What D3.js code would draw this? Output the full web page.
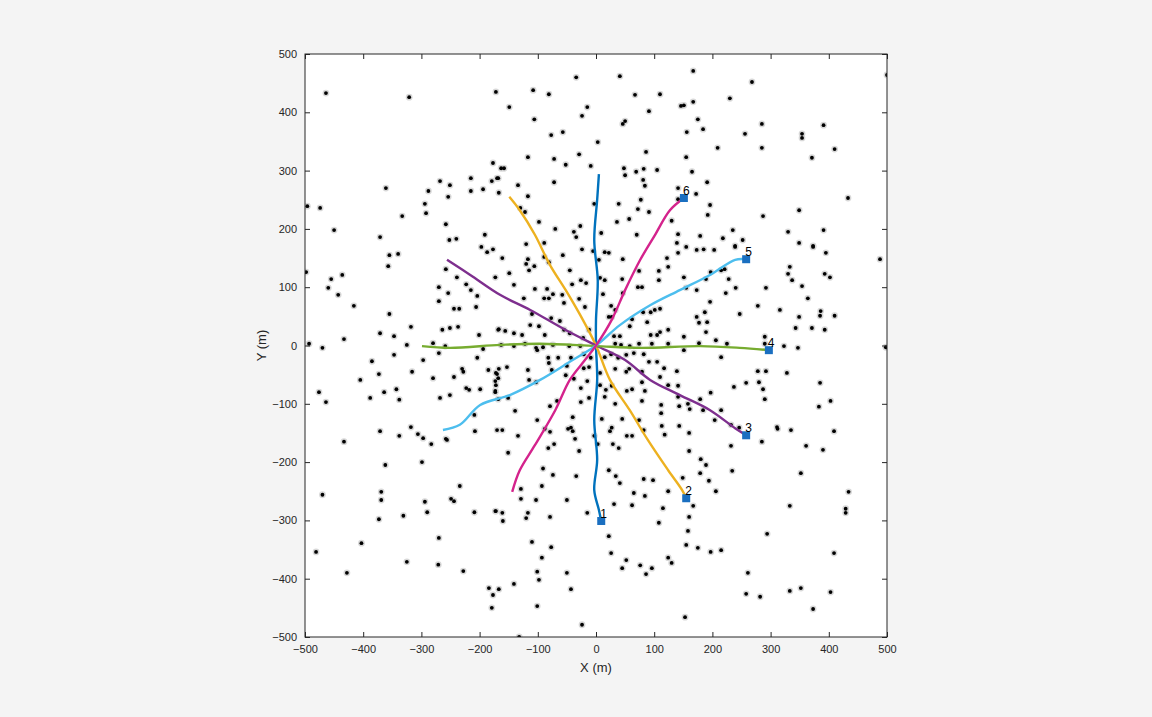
<!DOCTYPE html>
<html>
<head>
<meta charset="utf-8">
<script src="https://cdn.jsdelivr.net/npm/d3@7"></script>
<style>
body { margin: 0; background: #f4f4f4; }
text { font-family: "Liberation Sans", Arial, sans-serif; }
</style>
</head>
<body>
<div id="chart"></div>
<script>
// scatter points, [x, y] in metres
var dotsX = [-464,-321,-172,-177,-496,-474,-450,-361,-333,-371,-294,-292,-288,-268,-251,-254,-258,-252,-240,-215,-215,-194,-179,-170,-167,-191,
  -149,-108,-81,-34,41,167,-106,-15,-24,67,110,91,146,151,167,50,46,-77,-57,156,3,86,-117,-72,-29,155,-52,-9,-163,-158,-168,48,82,105,69,50,165,-72,81,84,-134,-117,141,141,77,39,-3,72,91,-122,-130,-98,-70,36,57,130,-27,-38,-34,9,70,141,139,-89,-120,155,-24,
  268,230,175,184,256,285,354,354,391,209,285,410,371,500,191,172,196,192,287,349,433,179,218,235,252,239,330,391,349,373,185,
  -498,-455,-436,-460,-443,-416,-355,-340,-357,-355,-493,-470,-433,-371,-347,-318,-325,-347,-385,-405,-373,-364,-388,-343,-338,-476,-464,-316,-297,-280,-371,-433,-338,-318,-306,-297,-283,
  -270,-254,-270,-244,-235,-239,-258,-223,-215,-204,-206,-197,-187,-177,-173,-264,-251,-237,-201,-168,-280,-259,-270,-204,-194,-230,-228,-185,-170,-173,-244,-223,-218,-199,-173,-268,-251,-258,-209,-208,-170,
  173,203,239,197,215,221,228,189,173,223,240,292,395,373,488,333,330,337,393,402,354,364,196,278,247,316,187,173,177,191,349,386,385,410,343,371,393,189,206,177,225,290,290,323,347,498,215,278,292,328,258,280,237,287,385,197,290,403,179,383,184,215,204,232,246,311,312,335,409,285,
  -161,-117,-120,-106,-115,-149,-89,-81,-57,-45,-5,5,15,22,46,45,74,108,122,124,141,151,155,108,72,79,-141,-105,-84,-81,-74,-58,-41,-26,-17,7,15,12,-124,-89,-55,-29,-19,26,33,46,22,27,81,94,101,110,88,110,124,62,58,-110,-77,-62,-113,-98,-88,-167,-156,-141,-127,-55,-45,-12,-22,
  -163,-141,-122,-103,-91,-74,-46,-27,31,41,33,43,58,74,94,105,96,124,151,151,-101,-82,-81,-65,-43,-21,-9,15,26,38,52,65,82,91,105,139,117,-167,-172,-168,-153,-117,-76,-50,-21,-12,7,33,57,52,79,110,
  -172,-173,-115,-103,-52,-38,-15,-26,7,17,27,53,62,79,84,124,141,141,158,161,143,112,79,33,15,-12,-26,-67,-79,-139,-151,-168,-101,-40,10,45,112,113,143,-161,-134,-88,-79,-48,-43,-40,-36,-3,24,27,53,62,74,82,118,160,
  -256,-362,-299,-470,-369,-369,-294,-290,-249,-244,-234,-373,-331,-209,-173,-270,-403,-481,-325,-271,-228,-428,-184,-167,-177,-179,
  -151,-82,-72,-29,29,39,3,-91,-74,-34,22,34,41,-93,-129,-129,-103,-50,82,98,124,65,84,31,62,115,149,160,167,-172,-161,-160,-117,-120,-79,-15,160,108,158,155,22,26,-110,-77,-93,52,45,76,96,86,124,130,-101,-98,-50,-43,-141,-101,-24,153,-132,
  232,361,390,180,189,179,234,194,206,352,434,333,429,429,294,175,197,215,409,261,258,282,333,352,403,373];
var dotsY = [433,426,435,313,239,236,198,270,222,186,243,227,265,282,275,255,208,181,183,287,265,268,282,287,262,190,
  409,438,431,460,462,471,388,409,394,430,431,402,411,412,418,385,380,361,366,366,349,332,323,320,328,323,310,308,304,304,287,304,303,301,298,292,298,280,284,274,275,256,270,251,250,243,243,234,229,229,236,212,200,212,217,214,205,195,186,193,190,191,176,176,174,169,165,
  452,424,388,371,363,380,363,356,378,339,339,337,322,464,280,260,241,224,222,232,253,188,184,198,181,171,195,198,176,171,165,
  126,114,121,99,87,68,155,157,136,54,3,-4,11,21,16,32,1,-16,-27,-59,-49,-80,-90,-75,-93,-80,-97,-45,-25,-56,-147,-165,-155,-140,-152,-159,-169,
  100,90,76,63,63,117,131,105,95,85,66,169,160,165,117,27,30,32,18,27,4,-1,-13,-21,-6,-40,-45,-42,-49,-61,-54,-73,-76,-75,-78,-90,-85,-160,-119,-147,-145,
  164,164,169,126,129,131,114,114,95,90,99,99,159,169,148,135,123,112,123,117,102,81,75,68,54,61,57,49,39,40,49,59,51,51,30,30,27,23,9,4,3,15,3,-1,-4,-3,-20,-44,-44,-47,-64,-63,-71,-75,-64,-81,-92,-95,-92,-105,-111,-111,-128,-136,-141,-140,-143,-145,-147,-165,
  150,148,140,136,129,124,152,143,155,129,162,147,160,159,148,114,128,128,150,135,159,117,99,112,100,100,104,97,97,81,88,87,105,112,107,116,112,88,81,81,73,80,66,68,61,90,49,49,57,57,61,63,40,23,27,45,33,54,47,42,35,33,18,28,25,21,18,27,21,27,13,
  1,-1,3,-4,-3,1,-1,-1,16,16,3,1,-1,3,18,18,3,3,15,-8,-8,-21,-30,-21,-21,-15,-21,-20,-15,-21,-16,-13,-15,-28,-28,-44,-39,-40,-47,-56,-37,-42,-42,-35,-39,-37,-47,-40,-40,-45,-45,-54,
  -68,-80,-59,-63,-51,-57,-61,-73,-68,-76,-69,-78,-75,-63,-78,-68,-69,-88,-100,-109,-104,-102,-95,-100,-88,-90,-97,-95,-104,-112,-90,-92,-128,-123,-126,-126,-116,-138,-138,-145,-155,-143,-148,-143,-141,-147,-160,-155,-147,-141,-155,-155,-128,-145,-153,-150,
  -162,-205,-200,-256,-251,-265,-268,-286,-263,-267,-241,-298,-292,-286,-284,-330,-339,-354,-371,-376,-387,-390,-416,-418,-428,-450,
  -184,-176,-169,-181,-169,-176,-169,-211,-222,-224,-214,-224,-236,-241,-246,-263,-265,-265,-229,-231,-250,-253,-258,-272,-274,-279,-227,-181,-275,-284,-287,-301,-287,-296,-294,-287,-294,-304,-318,-342,-327,-356,-337,-346,-364,-368,-382,-377,-382,-392,-364,-373,-388,-402,-390,-418,-409,-447,-479,-466,-500,
  -172,-172,-179,-195,-205,-219,-215,-232,-250,-219,-251,-275,-280,-287,-323,-347,-354,-351,-356,-390,-426,-431,-421,-416,-423,-452];

// trajectories, one x array and one y array per sensor
var pathX = [
  [5, 2, -3, 3, 0, 0, 2, -3, 2, -3, 5, 9],
  [-149, -131, -105, -79, -52, -27, 0, 24, 58, 89, 124, 148, 155],
  [-256, -216, -165, -113, -53, 0, 50, 93, 144, 196, 239, 258],
  [-299, -251, -165, -96, 0, 76, 179, 247, 297],
  [-263, -234, -199, -148, -96, -45, 0, 41, 93, 144, 196, 239, 258],
  [-144, -131, -105, -70, -45, -19, 0, 27, 50, 76, 101, 127, 151]
];
var pathY = [
  [294, 250, 181, 112, 44, 0, -59, -128, -196, -248, -282, -301],
  [255, 232, 190, 138, 95, 52, 0, -59, -111, -162, -214, -248, -262],
  [147, 121, 87, 61, 27, 0, -25, -59, -85, -111, -142, -154],
  [-1, -4, 1, 3, -1, -4, -1, -4, -8],
  [-145, -136, -102, -85, -59, -28, 0, 35, 69, 95, 121, 147, 148],
  [-251, -214, -171, -111, -59, -25, 0, 44, 95, 147, 189, 232, 253]
];
var pathColors = ["#0072BD", "#EDB120", "#7E2F8E", "#77AC30", "#4DBEEE", "#D4238C"];
var pathLabels = ["1", "2", "3", "4", "5", "6"];
var ticks = [-500, -400, -300, -200, -100, 0, 100, 200, 300, 400, 500];

var W = 1152, H = 717;
var plotL = 305, plotT = 54, pw = 582, ph = 583;

var svg = d3.select("#chart").append("svg").attr("width", W).attr("height", H);
svg.append("rect").attr("width", W).attr("height", H).attr("fill", "#f4f4f4");

var x = d3.scaleLinear().domain([-500, 500]).range([plotL, plotL + pw]);
var y = d3.scaleLinear().domain([-500, 500]).range([plotT + ph, plotT]);

svg.append("rect").attr("x", plotL).attr("y", plotT).attr("width", pw).attr("height", ph).attr("fill", "#fff");

svg.append("clipPath").attr("id", "clip").append("rect")
  .attr("x", plotL).attr("y", plotT).attr("width", pw).attr("height", ph);
var g = svg.append("g").attr("clip-path", "url(#clip)");

// dots with a soft gray rim
var dots = d3.range(dotsX.length);
g.selectAll("circle.halo").data(dots).enter().append("circle")
  .attr("cx", function(i) { return x(dotsX[i]); })
  .attr("cy", function(i) { return y(dotsY[i]); })
  .attr("r", 3.4).attr("fill", "#d8d8d8");
g.selectAll("circle.dot").data(dots).enter().append("circle")
  .attr("cx", function(i) { return x(dotsX[i]); })
  .attr("cy", function(i) { return y(dotsY[i]); })
  .attr("r", 1.9).attr("fill", "#000");

var line = d3.line().curve(d3.curveCatmullRom)
  .x(function(d) { return x(d[0]); })
  .y(function(d) { return y(d[1]); });

pathX.forEach(function(xs, k) {
  var pts = xs.map(function(v, i) { return [v, pathY[k][i]]; });
  g.append("path").attr("d", line(pts)).attr("fill", "none")
    .attr("stroke", pathColors[k]).attr("stroke-width", 2.4);
});

pathX.forEach(function(xs, k) {
  var ex = x(xs[xs.length - 1]), ey = y(pathY[k][pathY[k].length - 1]);
  svg.append("rect").attr("x", ex - 4).attr("y", ey - 4).attr("width", 8).attr("height", 8)
    .attr("fill", "#1a6fc0");
  svg.append("text").attr("x", ex - 1).attr("y", ey - 3).attr("font-size", 12)
    .attr("fill", "#000").text(pathLabels[k]);
});

// axes, ticks on all four sides
var axisColor = "#262626";
function styleAxis(sel) {
  sel.select(".domain").remove();
  sel.selectAll("line").attr("stroke", axisColor);
  sel.selectAll("text").attr("fill", axisColor).attr("font-size", 11)
    .style("font-family", "Liberation Sans, Arial, sans-serif");
}
svg.append("g").attr("transform", "translate(0," + (plotT + ph) + ")")
  .call(d3.axisBottom(x).tickValues(ticks).tickSize(-5).tickPadding(8)).call(styleAxis);
svg.append("g").attr("transform", "translate(" + plotL + ",0)")
  .call(d3.axisLeft(y).tickValues(ticks).tickSize(-5).tickPadding(8)).call(styleAxis);
svg.append("g").attr("transform", "translate(0," + plotT + ")")
  .call(d3.axisTop(x).tickValues(ticks).tickSize(-5).tickFormat("")).call(styleAxis);
svg.append("g").attr("transform", "translate(" + (plotL + pw) + ",0)")
  .call(d3.axisRight(y).tickValues(ticks).tickSize(-5).tickFormat("")).call(styleAxis);

svg.append("rect").attr("x", plotL).attr("y", plotT).attr("width", pw).attr("height", ph)
  .attr("fill", "none").attr("stroke", axisColor).attr("stroke-width", 1);

svg.append("text").attr("x", plotL + pw / 2).attr("y", 672).attr("text-anchor", "middle")
  .attr("font-size", 13).attr("fill", axisColor).text("X (m)");
svg.append("text").attr("transform", "translate(266," + (plotT + ph / 2) + ") rotate(-90)")
  .attr("text-anchor", "middle").attr("font-size", 13).attr("fill", axisColor).text("Y (m)");
</script>
</body>
</html>
